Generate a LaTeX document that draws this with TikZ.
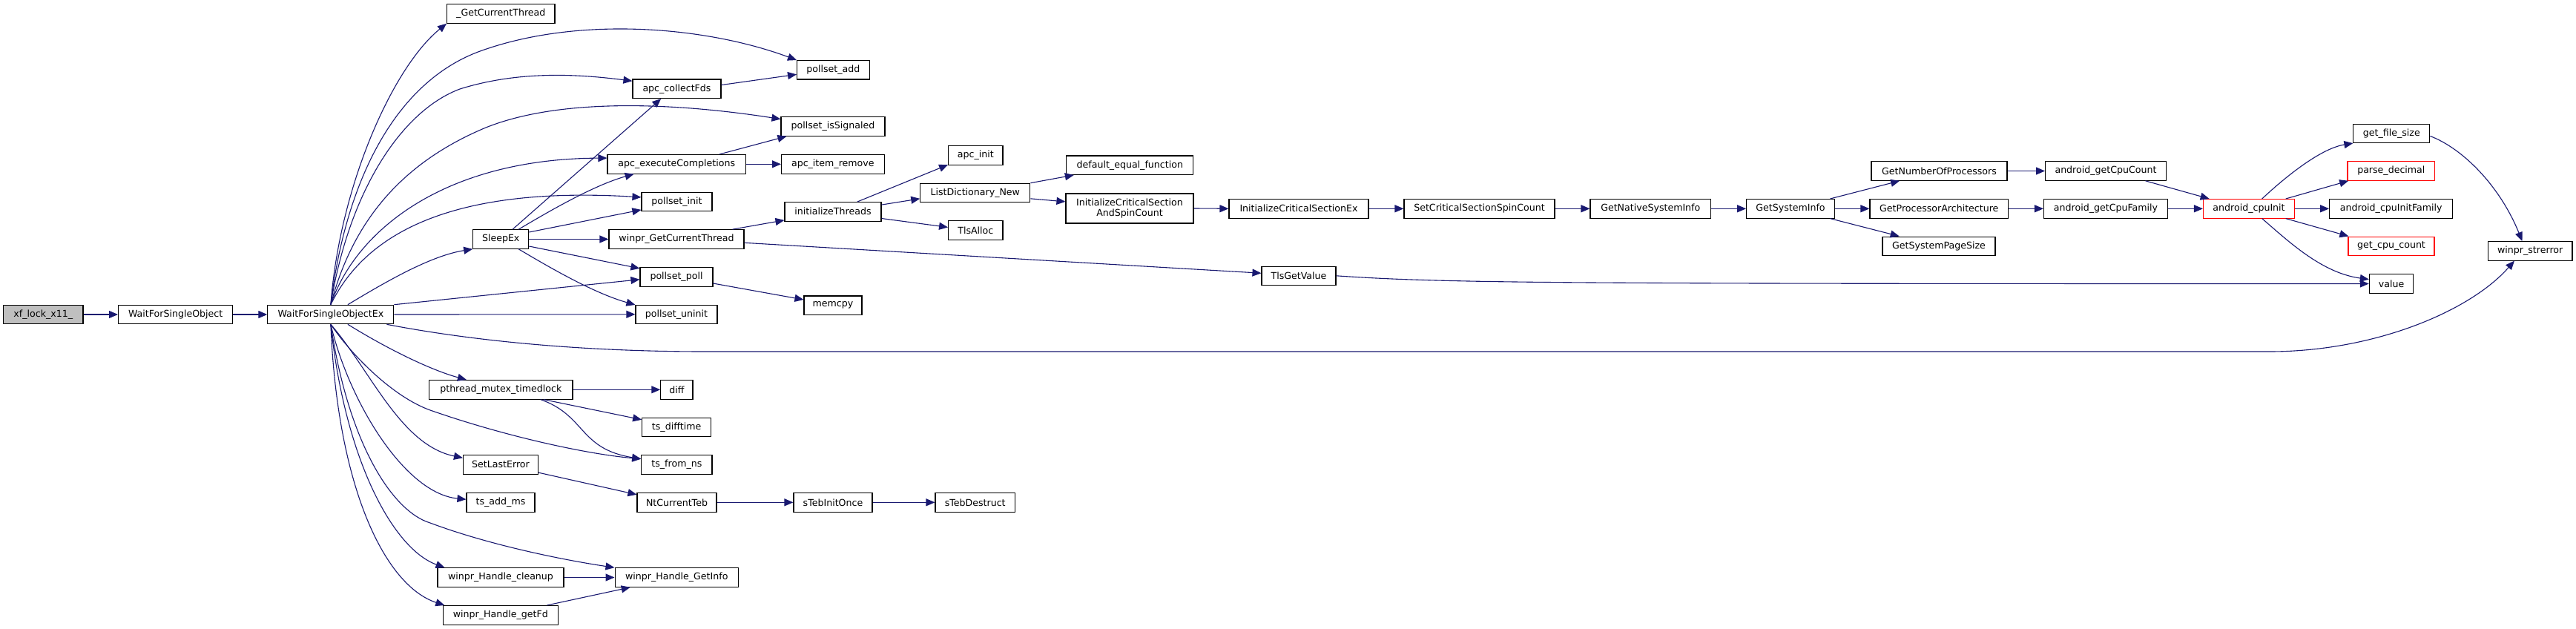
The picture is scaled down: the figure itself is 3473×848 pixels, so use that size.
\documentclass[tikz,border=0pt]{standalone}
\usepackage{fontspec}
\setmainfont{DejaVu Sans}
\usetikzlibrary{arrows.meta}
\definecolor{edgecol}{HTML}{191970}
\definecolor{rootfill}{HTML}{BFBFBF}
\begin{document}
\begin{tikzpicture}[x=1pt,y=-1pt,
 fn/.style={draw=black, line width=1.1pt, inner sep=0pt, minimum height=25.5pt, font=\fontsize{12.6}{14.5}\selectfont, align=center},
 rootfn/.style={fn, fill=rootfill},
 redfn/.style={fn, draw=red},
 call/.style={draw=edgecol, line width=1.1pt, -{Triangle[length=12pt,width=10pt]}}]
\useasboundingbox (0,0) rectangle (3473,848);
% nodes
\node[rootfn, minimum width=107.4pt] (root) at (58.3,424) {xf\_lock\_x11\_};
\node[fn, minimum width=154.2pt] (wfso) at (236.7,424) {WaitForSingleObject};
\node[fn, minimum width=170pt] (wfsoex) at (445.9,424) {WaitForSingleObjectEx};
\node[fn, minimum width=145.4pt] (gct) at (675.3,18.5) {\_GetCurrentThread};
\node[fn, minimum width=97.5pt] (padd) at (1123.3,94.3) {pollset\_add};
\node[fn, minimum width=119pt] (apc) at (912.5,119.8) {apc\_collectFds};
\node[fn, minimum width=140pt] (psig) at (1123,170.5) {pollset\_isSignaled};
\node[fn, minimum width=186.6pt] (aec) at (912.3,221.3) {apc\_executeCompletions};
\node[fn, minimum width=138.5pt] (air) at (1122.8,221.3) {apc\_item\_remove};
\node[fn, minimum width=95pt] (pinit) at (912.5,271.8) {pollset\_init};
\node[fn, minimum width=130pt] (init) at (1123,285.3) {initializeThreads};
\node[fn, minimum width=75pt] (sleepex) at (675.2,322.5) {SleepEx};
\node[fn, minimum width=182pt] (wgct) at (912,322.5) {winpr\_GetCurrentThread};
\node[fn, minimum width=98pt] (ppoll) at (912,373.3) {pollset\_poll};
\node[fn, minimum width=78pt] (memcpy) at (1123,411.7) {memcpy};
\node[fn, minimum width=110pt] (puninit) at (912,423.8) {pollset\_uninit};
\node[fn, minimum width=193.4pt] (ptm) at (675.3,525.3) {pthread\_mutex\_timedlock};
\node[fn, minimum width=43.2pt] (diff) at (912.4,525.3) {diff};
\node[fn, minimum width=93pt] (tsdt) at (912.2,575.8) {ts\_difftime};
\node[fn, minimum width=95.2pt] (tsfns) at (912.4,626.3) {ts\_from\_ns};
\node[fn, minimum width=101pt] (sle) at (675,626.3) {SetLastError};
\node[fn, minimum width=92pt] (tsam) at (675,677.3) {ts\_add\_ms};
\node[fn, minimum width=107pt] (nct) at (912.5,677.3) {NtCurrentTeb};
\node[fn, minimum width=106pt] (stio) at (1123,677.3) {sTebInitOnce};
\node[fn, minimum width=107.4pt] (stds) at (1314.7,677.3) {sTebDestruct};
\node[fn, minimum width=170pt] (whc) at (675,778.5) {winpr\_Handle\_cleanup};
\node[fn, minimum width=166.5pt] (gi) at (912.3,778.5) {winpr\_Handle\_GetInfo};
\node[fn, minimum width=154.5pt] (whg) at (674.8,829.3) {winpr\_Handle\_getFd};
\node[fn, minimum width=73.4pt] (apcinit) at (1315.3,209.3) {apc\_init};
\node[fn, minimum width=148pt] (ldn) at (1314.8,260) {ListDictionary\_New};
\node[fn, minimum width=73.4pt] (tlsalloc) at (1315.3,310.3) {TlsAlloc};
\node[fn, minimum width=171pt] (defeq) at (1523.3,222.7) {default\_equal\_function};
\node[fn, minimum width=172pt, minimum height=40pt] (icsasc) at (1523,281) {InitializeCriticalSection\\AndSpinCount};
\node[fn, minimum width=188pt] (icsex) at (1751,281.3) {InitializeCriticalSectionEx};
\node[fn, minimum width=100pt] (tlsget) at (1751,371.8) {TlsGetValue};
\node[fn, minimum width=203pt] (setcs) at (1994.5,281.3) {SetCriticalSectionSpinCount};
\node[fn, minimum width=162.6pt] (gnsi) at (2225.3,281.3) {GetNativeSystemInfo};
\node[fn, minimum width=118.8pt] (gsi) at (2414,281.3) {GetSystemInfo};
\node[fn, minimum width=183pt] (gnop) at (2614.5,230.5) {GetNumberOfProcessors};
\node[fn, minimum width=186.7pt] (gpa) at (2614.3,281.3) {GetProcessorArchitecture};
\node[fn, minimum width=152pt] (gsps) at (2614,331.8) {GetSystemPageSize};
\node[fn, minimum width=162.8pt] (agcc) at (2839,230.5) {android\_getCpuCount};
\node[fn, minimum width=167pt] (agcf) at (2839,281.3) {android\_getCpuFamily};
\node[redfn, minimum width=123pt] (cpuinit) at (3032,281.3) {android\_cpuInit};
\node[fn, minimum width=102.8pt] (gfs) at (3224.3,179.8) {get\_file\_size};
\node[redfn, minimum width=117.6pt] (pdec) at (3223.8,230.5) {parse\_decimal};
\node[fn, minimum width=166pt] (acif) at (3223.7,281.3) {android\_cpuInitFamily};
\node[redfn, minimum width=116pt] (gcc) at (3224,331.8) {get\_cpu\_count};
\node[fn, minimum width=59.3pt] (value) at (3224,382.5) {value};
\node[fn, minimum width=113.5pt] (wse) at (3411.2,338.3) {winpr\_strerror};
% edges
\draw[call] (root) -- (wfso);
\draw[call] (wfso) -- (wfsoex);
% WaitForSingleObjectEx fan (upper)
\draw[call] (wfsoex.north) .. controls (458,250) and (530,90) .. (gct.south west);
\draw[call] (wfsoex.north) .. controls (465,250) and (530,110) .. (650,68) .. controls (780,22) and (950,35) .. (padd.north west);
\draw[call] (wfsoex.north) .. controls (470,260) and (540,150) .. (620,120) .. controls (700,95) and (780,100) .. (apc.170);
\draw[call] (wfsoex.north) .. controls (475,300) and (540,220) .. (655,172) .. controls (760,130) and (920,140) .. (psig.172);
\draw[call] (wfsoex.north) .. controls (480,310) and (600,214) .. (aec.175);
\draw[call] (wfsoex.north) .. controls (490,320) and (600,250) .. (pinit.173);
\draw[call] (wfsoex.30) .. controls (520,380) and (580,345) .. (sleepex.south west);
\draw[call] (wfsoex.north east) -- (ppoll.184);
\draw[call] (wfsoex.east) -- (puninit.west);
\draw[call] (wfsoex.-10) .. controls (650,462) and (800,474) .. (950,474) -- (3060,474) .. controls (3200,474) and (3330,420) .. (wse.212);
% WaitForSingleObjectEx fan (lower)
\draw[call] (wfsoex.-30) .. controls (530,475) and (585,500) .. (ptm.164);
\draw[call] (wfsoex.south) .. controls (475,480) and (530,535) .. (580,553) .. controls (680,588) and (790,612) .. (tsfns.171);
\draw[call] (wfsoex.south) .. controls (500,500) and (540,600) .. (sle.170);
\draw[call] (wfsoex.south) .. controls (470,540) and (545,665) .. (tsam.175);
\draw[call] (wfsoex.south) .. controls (470,600) and (530,690) .. (580,705) .. controls (660,735) and (760,755) .. (gi.171);
\draw[call] (wfsoex.south) .. controls (465,620) and (530,740) .. (whc.170);
\draw[call] (wfsoex.south) .. controls (455,660) and (520,790) .. (whg.170);
% SleepEx
\draw[call] (sleepex.40) -- (apc.212);
\draw[call] (sleepex.29) .. controls (740,285) and (800,250) .. (aec.193);
\draw[call] (sleepex.14) -- (pinit.193);
\draw[call] (sleepex.east) -- (wgct.west);
\draw[call] (sleepex.-14) -- (ppoll.167);
\draw[call] (sleepex.-29) .. controls (740,360) and (800,395) .. (puninit.167);
% others
\draw[call] (apc.5) -- (padd.187);
\draw[call] (aec.13) -- (psig.192);
\draw[call] (aec.east) -- (air.west);
\draw[call] (ppoll.-10) -- (memcpy.169);
\draw[call] (wgct.10) -- (init.190);
\draw[call] (wgct.-3) -- (tlsget.176);
\draw[call] (init.22) -- (apcinit.199);
\draw[call] (init.8) -- (ldn.186);
\draw[call] (init.-8) -- (tlsalloc.174);
\draw[call] (ldn.north east) -- (defeq.190);
\draw[call] (ldn.-6) -- (icsasc.174);
\draw[call] (icsasc.east) -- (icsex.west);
\draw[call] (icsex) -- (setcs);
\draw[call] (setcs) -- (gnsi);
\draw[call] (gnsi) -- (gsi);
\draw[call] (gsi.14) -- (gnop.194);
\draw[call] (gsi) -- (gpa);
\draw[call] (gsi.-14) -- (gsps.166);
\draw[call] (gnop) -- (agcc);
\draw[call] (gpa) -- (agcf);
\draw[call] (agcc.-14) -- (cpuinit.166);
\draw[call] (agcf) -- (cpuinit);
\draw[call] (cpuinit.37) .. controls (3085,235) and (3130,200) .. (gfs.south west);
\draw[call] (cpuinit.15) -- (pdec.193);
\draw[call] (cpuinit) -- (acif);
\draw[call] (cpuinit.-15) -- (gcc.167);
\draw[call] (cpuinit.-37) .. controls (3085,325) and (3130,368) .. (value.169);
\draw[call] (gfs.-4) .. controls (3320,200) and (3370,250) .. (wse.129);
\draw[call] (tlsget.east) .. controls (1950,382) and (2100,382.5) .. (value.west);
\draw[call] (ptm) -- (diff);
\draw[call] (ptm.-13) -- (tsdt.168);
\draw[call] (ptm.-14) .. controls (790,560) and (780,605) .. (tsfns.171);
\draw[call] (sle.-12) -- (nct.169);
\draw[call] (nct) -- (stio);
\draw[call] (stio) -- (stds);
\draw[call] (whc) -- (gi);
\draw[call] (whg.12) -- (gi.192);
\end{tikzpicture}
\end{document}
